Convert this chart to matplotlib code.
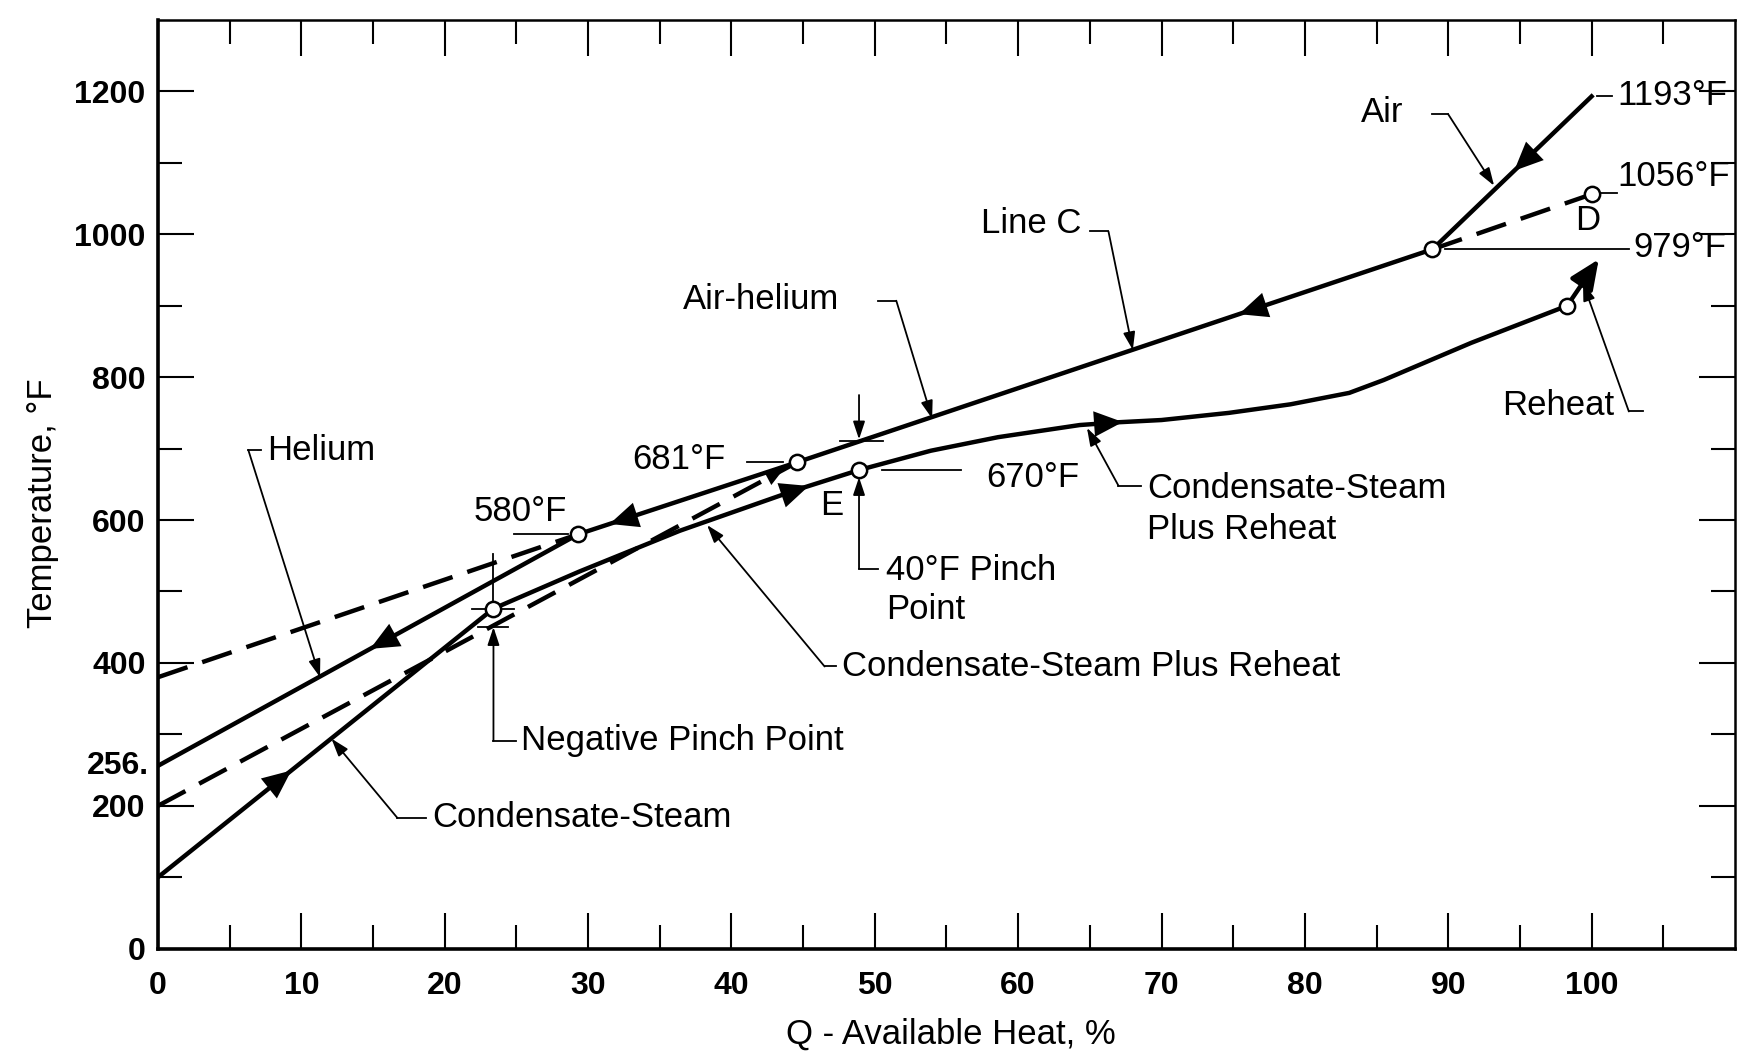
import matplotlib
matplotlib.use('Agg')
import matplotlib.pyplot as plt
import numpy as np

plt.rcParams['font.family'] = ['Liberation Sans', 'DejaVu Sans']

# Q - available heat (%) vs temperature (deg F)
q_helium = [0, 29.3]
t_helium = [256, 580]

q_air_helium = [29.3, 44.6, 88.9]          # air-helium + line C
t_air_helium = [580, 681, 979]

q_air = [88.9, 100]
t_air = [979, 1193]

q_line_d = [88.9, 100]
t_line_d = [979, 1056]

q_dash_upper = [0, 29.3]
t_dash_upper = [380, 580]

q_dash_lower = [0, 44.6]
t_dash_lower = [200, 681]

q_cond = [0, 23.4]
t_cond = [100, 476]

q_cond_reheat = [23.4, 29.4, 36.4, 44.5, 48.9, 53.9, 58.6, 64.3, 67.1, 70, 74.7, 79, 83.1, 85.5, 91.6, 98.3]
t_cond_reheat = [476, 528, 585, 642, 670, 697, 716, 733, 737, 740, 750, 762, 778, 796, 848, 900]

q_reheat = [98.3, 100.5]
t_reheat = [900, 965]

# state points drawn as open circles
q_points = [23.4, 29.3, 44.6, 48.9, 88.9, 100, 98.3]
t_points = [476, 580, 681, 670, 979, 1056, 900]

x_ticks = [0, 10, 20, 30, 40, 50, 60, 70, 80, 90, 100]
y_ticks = [0, 200, 400, 600, 800, 1000, 1200]

LW = 3.2
TXT = 25

fig = plt.figure(figsize=(17.44, 10.62), dpi=100)
ax = fig.add_axes([0.0906, 0.1067, 0.9042, 0.8745])
ax.set_xlim(0, 110)
ax.set_ylim(0, 1300)

ax.plot(q_helium, t_helium, color='k', lw=LW)
ax.plot(q_air_helium, t_air_helium, color='k', lw=LW)
ax.plot(q_air, t_air, color='k', lw=LW)
ax.plot(q_cond, t_cond, color='k', lw=LW)
ax.plot(q_cond_reheat, t_cond_reheat, color='k', lw=LW)
for qq, tt in [(q_line_d, t_line_d), (q_dash_upper, t_dash_upper), (q_dash_lower, t_dash_lower)]:
    ax.plot(qq, tt, color='k', lw=LW, dashes=(7, 3.5))

ax.annotate('', xy=(q_reheat[-1], t_reheat[-1]), xytext=(q_reheat[0], t_reheat[0]),
            arrowprops=dict(arrowstyle='-|>,head_length=0.5,head_width=0.22', mutation_scale=36,
                            lw=LW, color='k', shrinkA=0, shrinkB=0))

ax.plot(q_points, t_points, 'o', ms=11, mfc='white', mec='k', mew=1.8, zorder=6)


def flow_arrow(xs, ys, x_tip, back, size=46):
    # filled triangle sitting on a curve; back > 0 points toward lower Q
    y_tip = np.interp(x_tip, xs, ys)
    x_tail = x_tip + back
    y_tail = np.interp(x_tail, xs, ys)
    ax.annotate('', xy=(x_tip, y_tip), xytext=(x_tail, y_tail),
                arrowprops=dict(arrowstyle='-|>,head_length=0.45,head_width=0.2',
                                mutation_scale=size, lw=0, fc='k', ec='k',
                                shrinkA=0, shrinkB=0), zorder=5)


flow_arrow(q_helium, t_helium, 14.8, 3)
flow_arrow(q_air_helium, t_air_helium, 31.5, 3)
flow_arrow(q_air_helium, t_air_helium, 75.4, 3)
flow_arrow(q_air, t_air, 94.6, 2)
flow_arrow(q_cond, t_cond, 9.3, -3)
flow_arrow(q_cond_reheat, t_cond_reheat, 45.4, -3)
flow_arrow(q_cond_reheat, t_cond_reheat, 67.3, -3)
flow_arrow(q_dash_lower, t_dash_lower, 43.6, -2, size=28)

thin = dict(color='k', lw=1.3)
lead = dict(arrowstyle='-|>,head_length=0.6,head_width=0.2', mutation_scale=18,
            lw=1.3, color='k', shrinkA=0, shrinkB=0)


def leader(text_end, corner, tip):
    ax.plot([text_end[0], corner[0]], [text_end[1], corner[1]], **thin)
    ax.annotate('', xy=tip, xytext=corner, arrowprops=lead)


# labels with leaders
ax.text(7.6, 698, 'Helium', fontsize=TXT, ha='left', va='center')
leader((7.2, 698), (6.3, 698), (11.3, 380))

ax.text(36.6, 909, 'Air-helium', fontsize=TXT, ha='left', va='center')
leader((50.2, 907), (51.5, 907), (54.0, 742))

ax.text(57.4, 1015, 'Line C', fontsize=TXT, ha='left', va='center')
leader((65.0, 1004), (66.3, 1004), (68.0, 838))

ax.text(85.4, 1170, 'Air', fontsize=TXT, ha='center', va='center')
leader((88.9, 1168), (90.0, 1168), (93.2, 1068))

ax.text(97.7, 760, 'Reheat', fontsize=TXT, ha='center', va='center')
leader((103.6, 752), (102.6, 752), (99.4, 932))

ax.text(19.1, 183, 'Condensate-Steam', fontsize=TXT, ha='left', va='center')
leader((18.7, 183), (16.7, 183), (12.1, 294))

ax.text(47.7, 395, 'Condensate-Steam Plus Reheat', fontsize=TXT, ha='left', va='center')
leader((47.3, 395), (46.5, 395), (38.3, 593))

ax.text(69.0, 615, 'Condensate-Steam\nPlus Reheat', fontsize=TXT, ha='left', va='center',
        linespacing=1.3)
leader((68.6, 648), (67.0, 648), (64.8, 729))

# temperature call-outs
ax.text(101.8, 1194, '1193°F', fontsize=TXT, ha='left', va='center')
ax.plot([100.4, 101.4], [1194, 1194], **thin)
ax.text(101.8, 1081, '1056°F', fontsize=TXT, ha='left', va='center')
ax.plot([100.6, 101.8], [1058, 1058], **thin)
ax.text(102.9, 981, '979°F', fontsize=TXT, ha='left', va='center')
ax.plot([89.8, 102.6], [979, 979], **thin)
ax.text(99.7, 1019, 'D', fontsize=TXT, ha='center', va='center')

ax.text(25.3, 612, '580°F', fontsize=TXT, ha='center', va='center')
ax.plot([24.8, 28.6], [580, 580], **thin)
ax.text(36.3, 685, '681°F', fontsize=TXT, ha='center', va='center')
ax.plot([41.1, 43.6], [681, 681], **thin)
ax.text(57.8, 660, '670°F', fontsize=TXT, ha='left', va='center')
ax.plot([50.5, 56.0], [670, 670], **thin)
ax.text(47.0, 620, 'E', fontsize=TXT, ha='center', va='center')

# 40 F pinch point
ax.text(50.8, 502, '40°F Pinch\nPoint', fontsize=TXT, ha='left', va='center', linespacing=1.2)
ax.plot([50.2, 48.9], [532, 532], **thin)
ax.annotate('', xy=(48.9, 660), xytext=(48.9, 532), arrowprops=lead)
ax.annotate('', xy=(48.9, 713), xytext=(48.9, 775), arrowprops=lead)
ax.plot([47.6, 50.6], [711, 711], **thin)

# negative pinch point
ax.text(25.3, 291, 'Negative Pinch Point', fontsize=TXT, ha='left', va='center')
ax.plot([25.0, 23.4], [291, 291], **thin)
ax.annotate('', xy=(23.4, 450), xytext=(23.4, 291), arrowprops=lead)
ax.plot([22.3, 24.4], [450, 450], **thin)
ax.plot([21.9, 24.8], [476, 476], **thin)
ax.plot([23.4, 23.4], [476, 553], **thin)

# axes, ticks, frame
ax.set_xticks(x_ticks)
ax.set_xticklabels([str(v) for v in x_ticks])
ax.set_xticks(np.arange(5, 110, 10), minor=True)
ax.set_yticks(y_ticks)
ax.set_yticklabels([str(v) for v in y_ticks])
ax.set_yticks(np.arange(100, 1300, 200), minor=True)
ax.tick_params(which='both', direction='in', top=True, right=True, width=1.5, labelsize=23)
ax.tick_params(which='major', length=26)
ax.tick_params(which='minor', length=17)
ax.tick_params(axis='x', pad=16)
ax.tick_params(axis='y', pad=9)
for lab in ax.get_xticklabels() + ax.get_yticklabels():
    lab.set_fontweight('bold')
ax.text(-0.6, 256, '256.', fontsize=23, fontweight='bold', ha='right', va='center')

for side in ['left', 'bottom']:
    ax.spines[side].set_linewidth(2.6)
for side in ['top', 'right']:
    ax.spines[side].set_linewidth(1.8)

ax.set_xlabel('Q - Available Heat, %', fontsize=25)
ax.set_ylabel('Temperature, °F', fontsize=25)
ax.xaxis.set_label_coords(0.503, -0.074)
ax.yaxis.set_label_coords(-0.063, 0.48)

fig.savefig('out.png', dpi=100)
